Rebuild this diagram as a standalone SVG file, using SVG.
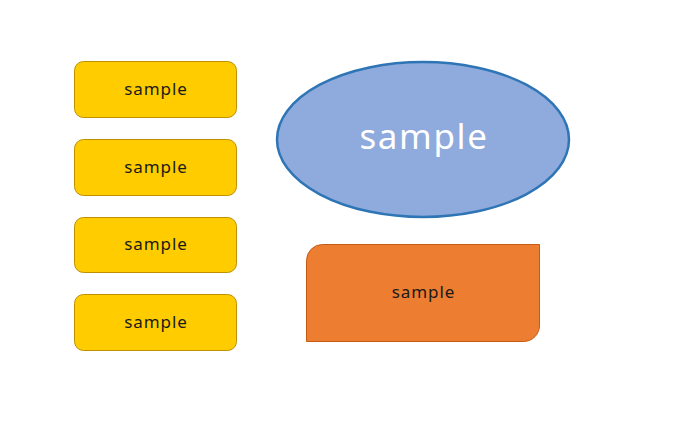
<svg xmlns="http://www.w3.org/2000/svg" width="684" height="431" viewBox="0 0 684 431">
<defs>
<style>
.ybox{fill:#FFCC00;stroke:#BF9000;stroke-width:1}
.lbl{font-family:"Noto Sans","Open Sans",sans-serif;font-size:17px;letter-spacing:0.9px;fill:#1a1a1a;text-anchor:middle;dominant-baseline:central}
.big{font-family:"Noto Sans","Open Sans",sans-serif;font-size:35px;letter-spacing:1.6px;fill:#ffffff;text-anchor:middle;dominant-baseline:central}
</style>
</defs>
<rect width="684" height="431" fill="#ffffff"/>
<g id="box1"><rect class="ybox" x="74.5" y="61.5" width="162" height="56" rx="9"/><text class="lbl" x="156" y="88">sample</text></g>
<g id="box2"><rect class="ybox" x="74.5" y="139.5" width="162" height="56" rx="9"/><text class="lbl" x="156" y="166">sample</text></g>
<g id="box3"><rect class="ybox" x="74.5" y="217.5" width="162" height="55" rx="9"/><text class="lbl" x="156" y="243.5">sample</text></g>
<g id="box4"><rect class="ybox" x="74.5" y="294.5" width="162" height="56" rx="9"/><text class="lbl" x="156" y="321">sample</text></g>
<g id="ellipse"><ellipse cx="423" cy="139.5" rx="146" ry="77.5" fill="#8FAADC" stroke="#2E75B6" stroke-width="2.5"/><text class="big" x="424" y="135.5">sample</text></g>
<g id="orange"><path d="M322.5,244.5 H539.5 V325 A16,16 0 0 1 523.5,341.5 H306.5 V260.5 A16,16 0 0 1 322.5,244.5 Z" fill="#ED7D31" stroke="#C55A11" stroke-width="1"/><text class="lbl" x="423.5" y="291.5">sample</text></g>
<g id="connectors"></g>
</svg>
